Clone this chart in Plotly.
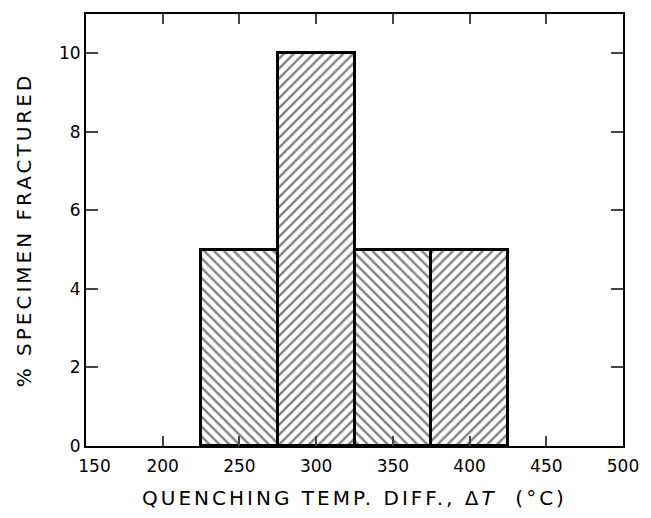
import plotly.graph_objects as go

bin_left = [225, 275, 325, 375]
bin_width = [50, 50, 50, 50]
pct_fractured = [5, 10, 5, 5]
hatch = ["\\", "/", "\\", "/"]
x_ticks = [150, 200, 250, 300, 350, 400, 450, 500]
x_ticktext = ["\u2002\u2002150", "200", "250", "300", "350", "400", "450", "500"]
y_ticks = [0, 2, 4, 6, 8, 10]

centers = [l + w / 2 for l, w in zip(bin_left, bin_width)]

fig = go.Figure()
fig.add_trace(go.Bar(
    x=centers, y=pct_fractured, width=bin_width,
    marker=dict(
        color="white",
        line=dict(color="black", width=3),
        pattern=dict(shape=hatch, fgcolor="black", bgcolor="white", size=7, solidity=0.33, fillmode="overlay"),
    ),
    showlegend=False,
))

font = "DejaVu Sans"
ls = '<span style="letter-spacing:3px">{}</span>'
fig.update_layout(
    width=651, height=518,
    margin=dict(l=86, r=21, t=12, b=70),
    paper_bgcolor="white", plot_bgcolor="white",
    font=dict(family=font, color="black", size=17),
    bargap=0,
)
fig.update_xaxes(
    range=[150, 500], tickvals=x_ticks, ticktext=x_ticktext,
    ticks="inside", ticklen=10, tickwidth=1.5, ticklabelstandoff=4,
    showline=True, linecolor="black", linewidth=2, mirror="allticks",
    showgrid=False, zeroline=False,
    title=dict(text=ls.format("QUENCHING TEMP. DIFF., Δ<i>T</i>  (°C)"), font=dict(size=20), standoff=16),
)
fig.update_yaxes(
    range=[0, 11], tickvals=y_ticks, ticks="inside", ticklen=12, tickwidth=1.5,
    showline=True, linecolor="black", linewidth=2, mirror="allticks",
    showgrid=False, zeroline=False,
    title=dict(text=ls.format("% SPECIMEN FRACTURED"), font=dict(size=20), standoff=22),
)
fig.write_html("out.html")
